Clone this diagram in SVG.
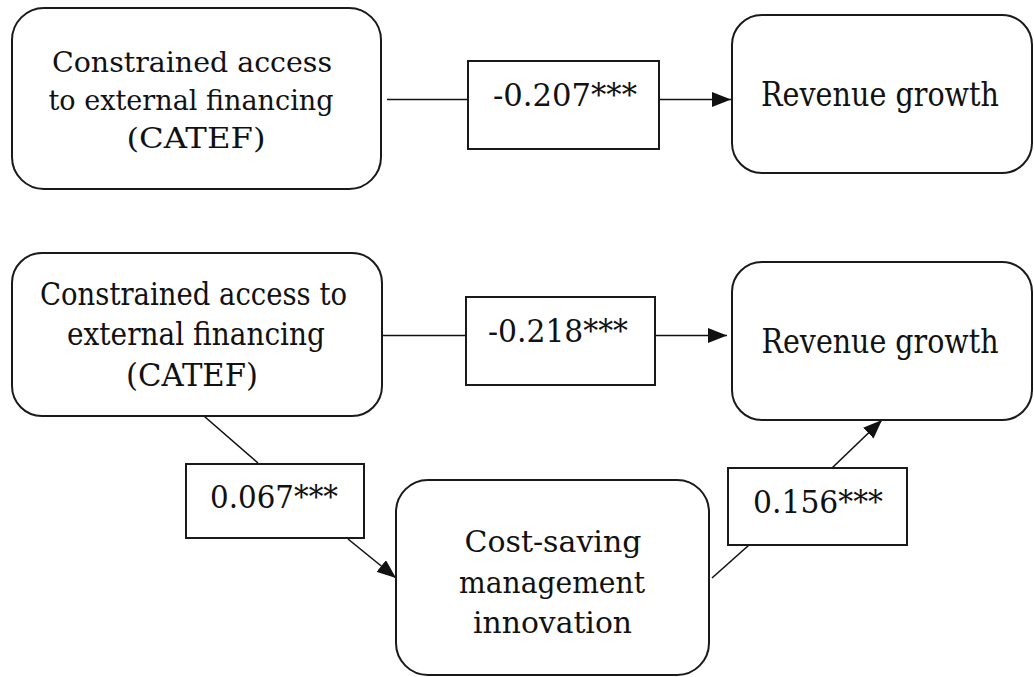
<svg xmlns="http://www.w3.org/2000/svg" width="1034" height="677" viewBox="0 0 1034 677">
<style>
.node{fill:#fff;stroke:#1a1a1a;stroke-width:2}
.lbl{fill:#fff;stroke:#1a1a1a;stroke-width:2}
text{font-family:"DejaVu Serif","Liberation Serif","Times New Roman",Times,serif;fill:#111;text-anchor:middle}
.n{font-size:31px}
.a{font-size:28px}
.r{font-size:33px}
.c{font-size:31px}
.k{font-size:30px}
.edge{fill:none;stroke:#111;stroke-width:1.6}
</style>
<defs>
<marker id="ah" markerWidth="19" markerHeight="15" refX="19" refY="7.5" orient="auto" markerUnits="userSpaceOnUse">
<path d="M0,0 L19,7.5 L0,15 Z" fill="#111"/>
</marker>
</defs>
<rect width="1034" height="677" fill="#fff"/>
<g id="connectors">
<line class="edge" x1="387" y1="99.5" x2="468" y2="99.5"/>
<line class="edge" x1="659" y1="99.5" x2="731" y2="99.5" marker-end="url(#ah)"/>
<line class="edge" x1="383" y1="335.5" x2="466" y2="335.5"/>
<line class="edge" x1="655" y1="335.5" x2="727" y2="335.5" marker-end="url(#ah)"/>
<line class="edge" x1="197" y1="410" x2="258" y2="463"/>
<line class="edge" x1="348" y1="539" x2="396" y2="578" marker-end="url(#ah)"/>
<line class="edge" x1="712" y1="578" x2="749" y2="545"/>
<line class="edge" x1="832" y1="468" x2="882" y2="420" marker-end="url(#ah)"/>
</g>
<g id="catef1">
<rect class="node" x="12" y="8" width="369" height="181" rx="32" ry="32"/>
<text class="a" x="192" y="72" textLength="280" lengthAdjust="spacingAndGlyphs">Constrained access</text>
<text class="a" x="191" y="110" textLength="285" lengthAdjust="spacingAndGlyphs">to external financing</text>
<text class="a" x="196" y="148" textLength="139" lengthAdjust="spacingAndGlyphs">(CATEF)</text>
</g>
<g id="revenue1">
<rect class="node" x="732" y="15" width="300" height="158" rx="30" ry="30"/>
<text class="r" x="880" y="106" textLength="238" lengthAdjust="spacingAndGlyphs">Revenue growth</text>
</g>
<g id="label1">
<rect class="lbl" x="468" y="61" width="191" height="88"/>
<text class="n" x="565" y="106" textLength="144" lengthAdjust="spacingAndGlyphs">-0.207***</text>
</g>
<g id="catef2">
<rect class="node" x="12" y="253" width="370" height="163" rx="30" ry="30"/>
<text class="c" x="193.5" y="305" textLength="307" lengthAdjust="spacingAndGlyphs">Constrained access to</text>
<text class="c" x="196" y="345" textLength="258" lengthAdjust="spacingAndGlyphs">external financing</text>
<text class="c" x="192" y="386" textLength="132" lengthAdjust="spacingAndGlyphs">(CATEF)</text>
</g>
<g id="revenue2">
<rect class="node" x="732" y="262" width="300" height="158" rx="30" ry="30"/>
<text class="r" x="880" y="353" textLength="237" lengthAdjust="spacingAndGlyphs">Revenue growth</text>
</g>
<g id="label2">
<rect class="lbl" x="466" y="297" width="189" height="88"/>
<text class="n" x="558" y="342" textLength="140" lengthAdjust="spacingAndGlyphs">-0.218***</text>
</g>
<g id="label3">
<rect class="lbl" x="186" y="464" width="178" height="74"/>
<text class="n" x="274" y="508" textLength="128" lengthAdjust="spacingAndGlyphs">0.067***</text>
</g>
<g id="costsaving">
<rect class="node" x="396" y="480" width="313" height="195" rx="32" ry="32"/>
<text class="k" x="553" y="552" textLength="177" lengthAdjust="spacingAndGlyphs">Cost-saving</text>
<text class="k" x="552" y="593" textLength="186" lengthAdjust="spacingAndGlyphs">management</text>
<text class="k" x="552.5" y="633" textLength="159" lengthAdjust="spacingAndGlyphs">innovation</text>
</g>
<g id="label4">
<rect class="lbl" x="728" y="468" width="179" height="77"/>
<text class="n" x="818" y="513" textLength="130" lengthAdjust="spacingAndGlyphs">0.156***</text>
</g>
</svg>
